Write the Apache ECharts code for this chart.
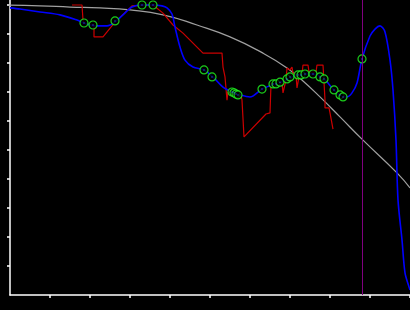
<!DOCTYPE html>
<html>
<head>
<meta charset="utf-8">
<script src="https://cdn.jsdelivr.net/npm/echarts@6/dist/echarts.min.js"></script>
<style>html,body{margin:0;padding:0;background:#000;}#c{width:410px;height:310px;}</style>
</head>
<body>
<div id="c"></div>
<script>
// Smooth fitted curve (blue)
var blueCurve = [[0,9.9],[0.25,9.86],[0.75,9.76],[1.25,9.66],[1.675,9.48],[1.85,9.38],[2.125,9.28],[2.425,9.28],[2.625,9.41],[2.825,9.66],[3.05,9.93],[3.3,10.0],[3.575,10.0],[3.8,9.97],[3.925,9.9],[4.05,9.69],[4.125,9.24],[4.25,8.55],[4.375,8.1],[4.575,7.86],[4.85,7.76],[5.075,7.52],[5.325,7.17],[5.55,7.0],[5.75,6.9],[6.0,6.83],[6.3,7.1],[6.625,7.28],[6.775,7.34],[7.0,7.48],[7.25,7.62],[7.575,7.62],[7.85,7.45],[8.1,7.07],[8.325,6.83],[8.425,6.83],[8.55,6.97],[8.675,7.31],[8.8,8.14],[9.0,8.93],[9.125,9.17],[9.25,9.28],[9.375,9.07],[9.5,8.1],[9.575,7.07],[9.65,5.34],[9.7,3.28],[9.8,1.9],[9.875,0.76],[9.975,0.28],[10,0.17]];
// Raw measurement trace (red)
var redTrace = [[1.55,10.0],[1.8,10.0],[1.825,9.48],[1.85,9.38],[2.075,9.31],[2.1,9.24],[2.1,8.9],[2.325,8.9],[2.625,9.41],[3.05,9.97],[3.075,10.0],[3.575,10.0],[3.825,9.72],[4.075,9.31],[4.325,9.03],[4.825,8.34],[5.3,8.34],[5.325,7.86],[5.375,7.52],[5.425,6.72],[5.45,7.0],[5.775,6.9],[5.8,6.72],[5.85,5.45],[6.4,6.24],[6.5,6.28],[6.525,7.28],[6.625,7.31],[6.8,7.34],[6.825,6.97],[6.875,6.97],[6.9,7.41],[6.925,7.83],[6.975,7.86],[7.0,7.76],[7.05,7.86],[7.075,7.66],[7.15,7.59],[7.175,7.14],[7.2,7.14],[7.225,7.52],[7.3,7.62],[7.325,7.93],[7.45,7.93],[7.475,7.69],[7.65,7.69],[7.675,7.93],[7.825,7.93],[7.85,7.34],[7.875,6.72],[7.875,6.45],[7.975,6.45],[8.0,6.28],[8.075,5.72]];
// Reference trend (grey)
var greyTrend = [[-0.25,10.0],[0.75,9.97],[1.5,9.93],[2.25,9.9],[3.0,9.83],[3.825,9.66],[4.675,9.31],[5.5,8.9],[6.325,8.34],[6.925,7.83],[7.325,7.38],[7.75,6.83],[8.25,6.14],[8.825,5.34],[9.675,4.21],[10.0,3.69]];
// Sample points (green circles)
var samplePoints = [[1.85,9.38],[2.075,9.31],[2.625,9.45],[3.3,10.0],[3.575,10.0],[4.85,7.76],[5.05,7.52],[5.55,7.0],[5.6,6.97],[5.65,6.93],[5.7,6.9],[6.3,7.1],[6.575,7.28],[6.65,7.28],[6.75,7.34],[6.925,7.45],[7.0,7.52],[7.2,7.59],[7.275,7.59],[7.375,7.62],[7.575,7.62],[7.75,7.52],[7.85,7.45],[8.1,7.07],[8.25,6.9],[8.325,6.83],[8.8,8.14]];
// Vertical marker position
var markerX = 8.8125;
var tickValues = [1,2,3,4,5,6,7,8,9,10];

var chart = echarts.init(document.getElementById('c'), null, {renderer:'canvas'});
chart.setOption({
  backgroundColor:'#000',
  animation:false,
  grid:{left:10,right:0,top:0,bottom:15,containLabel:false},
  xAxis:{type:'value',min:0,max:10,interval:1,
    axisLine:{show:true,onZero:false,lineStyle:{color:'#fff',width:1.5}},
    axisTick:{show:true,length:3,customValues:tickValues,lineStyle:{color:'#fff',width:1.5}},
    axisLabel:{show:false},splitLine:{show:false}},
  yAxis:{type:'value',min:0,max:10.1724,interval:1,
    axisLine:{show:true,onZero:false,lineStyle:{color:'#fff',width:1.5}},
    axisTick:{show:true,length:3,customValues:tickValues,lineStyle:{color:'#fff',width:1.5}},
    axisLabel:{show:false},splitLine:{show:false}},
  series:[
    {type:'line',data:greyTrend,smooth:true,showSymbol:false,clip:false,
      lineStyle:{color:'#a0a0a0',width:1.2},z:1,
      markLine:{silent:true,symbol:['none','none'],label:{show:false},
        lineStyle:{color:'#800080',width:1,type:'solid'},data:[{xAxis:markerX}]}},
    {type:'line',data:redTrace,smooth:false,showSymbol:false,
      lineStyle:{color:'#cc0000',width:1.2},z:2},
    {type:'line',data:blueCurve,smooth:0.3,showSymbol:false,
      lineStyle:{color:'#0000ff',width:1.6},z:3},
    {type:'scatter',data:samplePoints,symbol:'circle',symbolSize:8,
      itemStyle:{color:'#000',borderColor:'#22ff22',borderWidth:1.2},z:4},
    {type:'scatter',data:samplePoints,symbol:'circle',symbolSize:1.5,
      itemStyle:{color:'#3050ff'},z:5}
  ]
});
</script>
</body>
</html>
